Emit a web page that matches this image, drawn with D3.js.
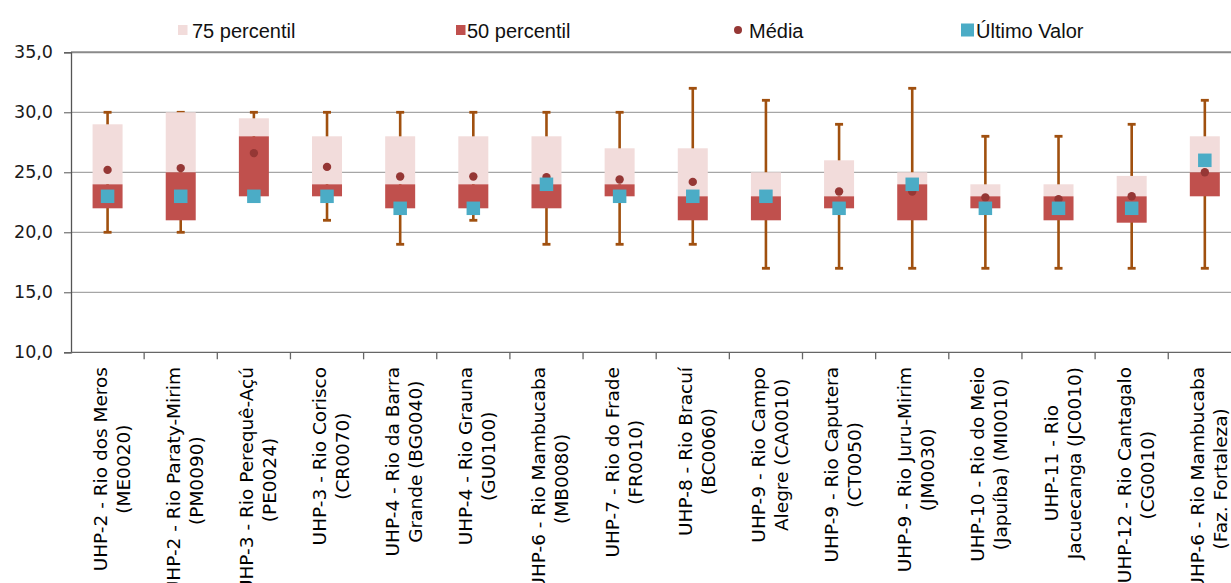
<!DOCTYPE html>
<html>
<head>
<meta charset="utf-8">
<script src="https://cdn.jsdelivr.net/npm/d3@7"></script>
<style>
  body { margin: 0; background: #fff; }
  svg { display: block; }
</style>
</head>
<body>
<div id="chart"></div>
<script>
// data
var categories = ["ME0020", "PM0090", "PE0024", "CR0070", "BG0040", "GU0100", "MB0080", "FR0010",
    "BC0060", "CA0010", "CT0050", "JM0030", "MI0010", "JC0010", "CG0010", "FAZ"];
var labelLine1 = ["UHP-2 - Rio dos Meros", "UHP-2 - Rio Paraty-Mirim", "UHP-3 - Rio Perequê-Açú",
    "UHP-3 - Rio Corisco", "UHP-4 - Rio da Barra", "UHP-4 - Rio Grauna", "UHP-6 - Rio Mambucaba",
    "UHP-7 - Rio do Frade", "UHP-8 - Rio Bracuí", "UHP-9 - Rio Campo", "UHP-9 - Rio Caputera",
    "UHP-9 - Rio Juru-Mirim", "UHP-10 - Rio do Meio", "UHP-11 - Rio", "UHP-12 - Rio Cantagalo",
    "UHP-6 - Rio Mambucaba"];
var labelLine2 = ["(ME0020)", "(PM0090)", "(PE0024)", "(CR0070)", "Grande (BG0040)", "(GU0100)",
    "(MB0080)", "(FR0010)", "(BC0060)", "Alegre (CA0010)", "(CT0050)", "(JM0030)",
    "(Japuíba) (MI0010)", "Jacuecanga (JC0010)", "(CG0010)", "(Faz. Fortaleza)"];
var whiskerMin = [20, 20, 23, 21, 19, 21, 19, 19, 19, 17, 17, 17, 17, 17, 17, 17];
var whiskerMax = [30, 30, 30, 30, 30, 30, 30, 30, 32, 31, 29, 32, 28, 28, 29, 31];
var q1 = [22, 21, 23, 23, 22, 22, 22, 23, 21, 21, 22, 21, 22, 21, 20.8, 23];
var median = [24, 25, 28, 24, 24, 24, 24, 24, 23, 23, 23, 24, 23, 23, 23, 25];
var q3 = [29, 30, 29.5, 28, 28, 28, 28, 27, 27, 25, 26, 25, 24, 24, 24.7, 28];
var media = [25.2, 25.35, 26.6, 25.45, 24.65, 24.65, 24.6, 24.4, 24.2, 23.0, 23.4, 23.4, 22.9, 22.75, 23.0, 25.0];
var ultimo = [23, 23, 23, 23, 22, 22, 24, 23, 23, 23, 22, 24, 22, 22, 22, 26];
var yTicks = [10, 15, 20, 25, 30, 35];
var legendNames = ["75 percentil", "50 percentil", "Média", "Último Valor"];

var W = 1231, H = 583;
var marginLeft = 71, marginTop = 52.3, plotH = 300, band = 73.15;

var svg = d3.select("#chart").append("svg")
    .attr("width", W)
    .attr("height", H);

var x = d3.scaleBand()
    .domain(categories)
    .range([marginLeft, marginLeft + band * categories.length])
    .padding(0);
var y = d3.scaleLinear()
    .domain([10, 35])
    .range([marginTop + plotH, marginTop]);

var fmt = d3.formatLocale({ decimal: ",", thousands: ".", grouping: [3], currency: ["R$", ""] }).format(".1f");

// gridlines
svg.append("g").selectAll("line")
    .data(yTicks.slice(1))
    .enter().append("line")
    .attr("x1", marginLeft).attr("x2", W)
    .attr("y1", function (d) { return y(d); })
    .attr("y2", function (d) { return y(d); })
    .attr("stroke", function (d) { return d == 35 ? "#8a8a8a" : "#a6a6a6"; })
    .attr("stroke-width", function (d) { return d == 35 ? 2 : 1.2; });

// y axis
var yAxis = svg.append("g")
    .attr("transform", "translate(" + marginLeft + ",0)")
    .call(d3.axisLeft(y).tickValues(yTicks).tickFormat(fmt).tickSize(7).tickPadding(11));
yAxis.select(".domain").attr("stroke", "#555").attr("stroke-width", 1.3);
yAxis.selectAll(".tick line").attr("stroke", "#555");
yAxis.selectAll("text")
    .attr("font-family", "DejaVu Sans")
    .attr("font-size", "17.5px")
    .attr("fill", "#1a1a1a");

// x axis: ticks between categories
var xAxisG = svg.append("g");
xAxisG.append("line")
    .attr("x1", marginLeft).attr("x2", W)
    .attr("y1", y(10)).attr("y2", y(10))
    .attr("stroke", "#666").attr("stroke-width", 1.3);
xAxisG.selectAll(".xt")
    .data(categories)
    .enter().append("line")
    .attr("x1", function (d) { return x(d) + band; })
    .attr("x2", function (d) { return x(d) + band; })
    .attr("y1", y(10)).attr("y2", y(10) + 7)
    .attr("stroke", "#666").attr("stroke-width", 1.3);

// category labels, rotated, two lines centred on each other
var labelTop = 367;
var lab = svg.append("g").selectAll("g")
    .data(categories)
    .enter().append("g");
lab.each(function (d, i) {
    var g = d3.select(this);
    var cx = x(d) + band / 2;
    var lines = [labelLine1[i], labelLine2[i]];
    var texts = lines.map(function (t, k) {
        return g.append("text")
            .attr("font-family", "DejaVu Sans")
            .attr("font-size", "18.5px")
            .attr("fill", "#000")
            .attr("text-anchor", "middle")
            .text(t);
    });
    var maxW = d3.max(texts, function (t) { return t.node().getComputedTextLength(); });
    texts.forEach(function (t, k) {
        t.attr("transform", "translate(" + (cx - 1 + k * 23) + "," + (labelTop + maxW / 2) + ") rotate(-90)");
    });
});

// boxes
var boxW = 30;
var idx = d3.range(categories.length);
var marks = svg.append("g");

// whiskers
marks.selectAll(".whisker")
    .data(idx)
    .enter().append("line")
    .attr("x1", function (i) { return x(categories[i]) + band / 2; })
    .attr("x2", function (i) { return x(categories[i]) + band / 2; })
    .attr("y1", function (i) { return y(whiskerMin[i]); })
    .attr("y2", function (i) { return y(whiskerMax[i]); })
    .attr("stroke", "#a0500f").attr("stroke-width", 2.6);
[whiskerMin, whiskerMax].forEach(function (arr) {
    marks.selectAll(null)
        .data(idx)
        .enter().append("line")
        .attr("x1", function (i) { return x(categories[i]) + band / 2 - 4; })
        .attr("x2", function (i) { return x(categories[i]) + band / 2 + 4; })
        .attr("y1", function (i) { return y(arr[i]); })
        .attr("y2", function (i) { return y(arr[i]); })
        .attr("stroke", "#a0500f").attr("stroke-width", 2.8);
});

// 75 percentil (median to q3)
marks.selectAll(".p75")
    .data(idx)
    .enter().append("rect")
    .attr("x", function (i) { return x(categories[i]) + band / 2 - boxW / 2; })
    .attr("width", boxW)
    .attr("y", function (i) { return y(q3[i]); })
    .attr("height", function (i) { return y(median[i]) - y(q3[i]); })
    .attr("fill", "#f2dcdb");

// 50 percentil (q1 to median)
marks.selectAll(".p50")
    .data(idx)
    .enter().append("rect")
    .attr("x", function (i) { return x(categories[i]) + band / 2 - boxW / 2; })
    .attr("width", boxW)
    .attr("y", function (i) { return y(median[i]); })
    .attr("height", function (i) { return y(q1[i]) - y(median[i]); })
    .attr("fill", "#c0504d");

// média
marks.selectAll(".mean")
    .data(idx)
    .enter().append("circle")
    .attr("cx", function (i) { return x(categories[i]) + band / 2; })
    .attr("cy", function (i) { return y(media[i]); })
    .attr("r", 4.2)
    .attr("fill", "#953735");

// último valor
var sq = 13.5;
marks.selectAll(".last")
    .data(idx)
    .enter().append("rect")
    .attr("x", function (i) { return x(categories[i]) + band / 2 - sq / 2; })
    .attr("y", function (i) { return y(ultimo[i]) - sq / 2; })
    .attr("width", sq).attr("height", sq)
    .attr("fill", "#4bacc6");

// legend
var legend = svg.append("g").attr("font-family", "Liberation Sans, Arial, sans-serif").attr("font-size", "20px");
var legX = [192, 467, 749, 976];
legend.append("rect").attr("x", 178).attr("y", 25).attr("width", 9.5).attr("height", 10).attr("fill", "#f2dcdb");
legend.append("rect").attr("x", 456).attr("y", 25).attr("width", 9.5).attr("height", 10).attr("fill", "#c0504d");
legend.append("circle").attr("cx", 738).attr("cy", 30).attr("r", 4).attr("fill", "#953735");
legend.append("rect").attr("x", 961).attr("y", 23.5).attr("width", 13).attr("height", 13).attr("fill", "#4bacc6");
legend.selectAll("text")
    .data(legendNames)
    .enter().append("text")
    .attr("x", function (d, i) { return legX[i]; })
    .attr("y", 37.5)
    .attr("fill", "#111")
    .text(function (d) { return d; });
</script>
</body>
</html>
